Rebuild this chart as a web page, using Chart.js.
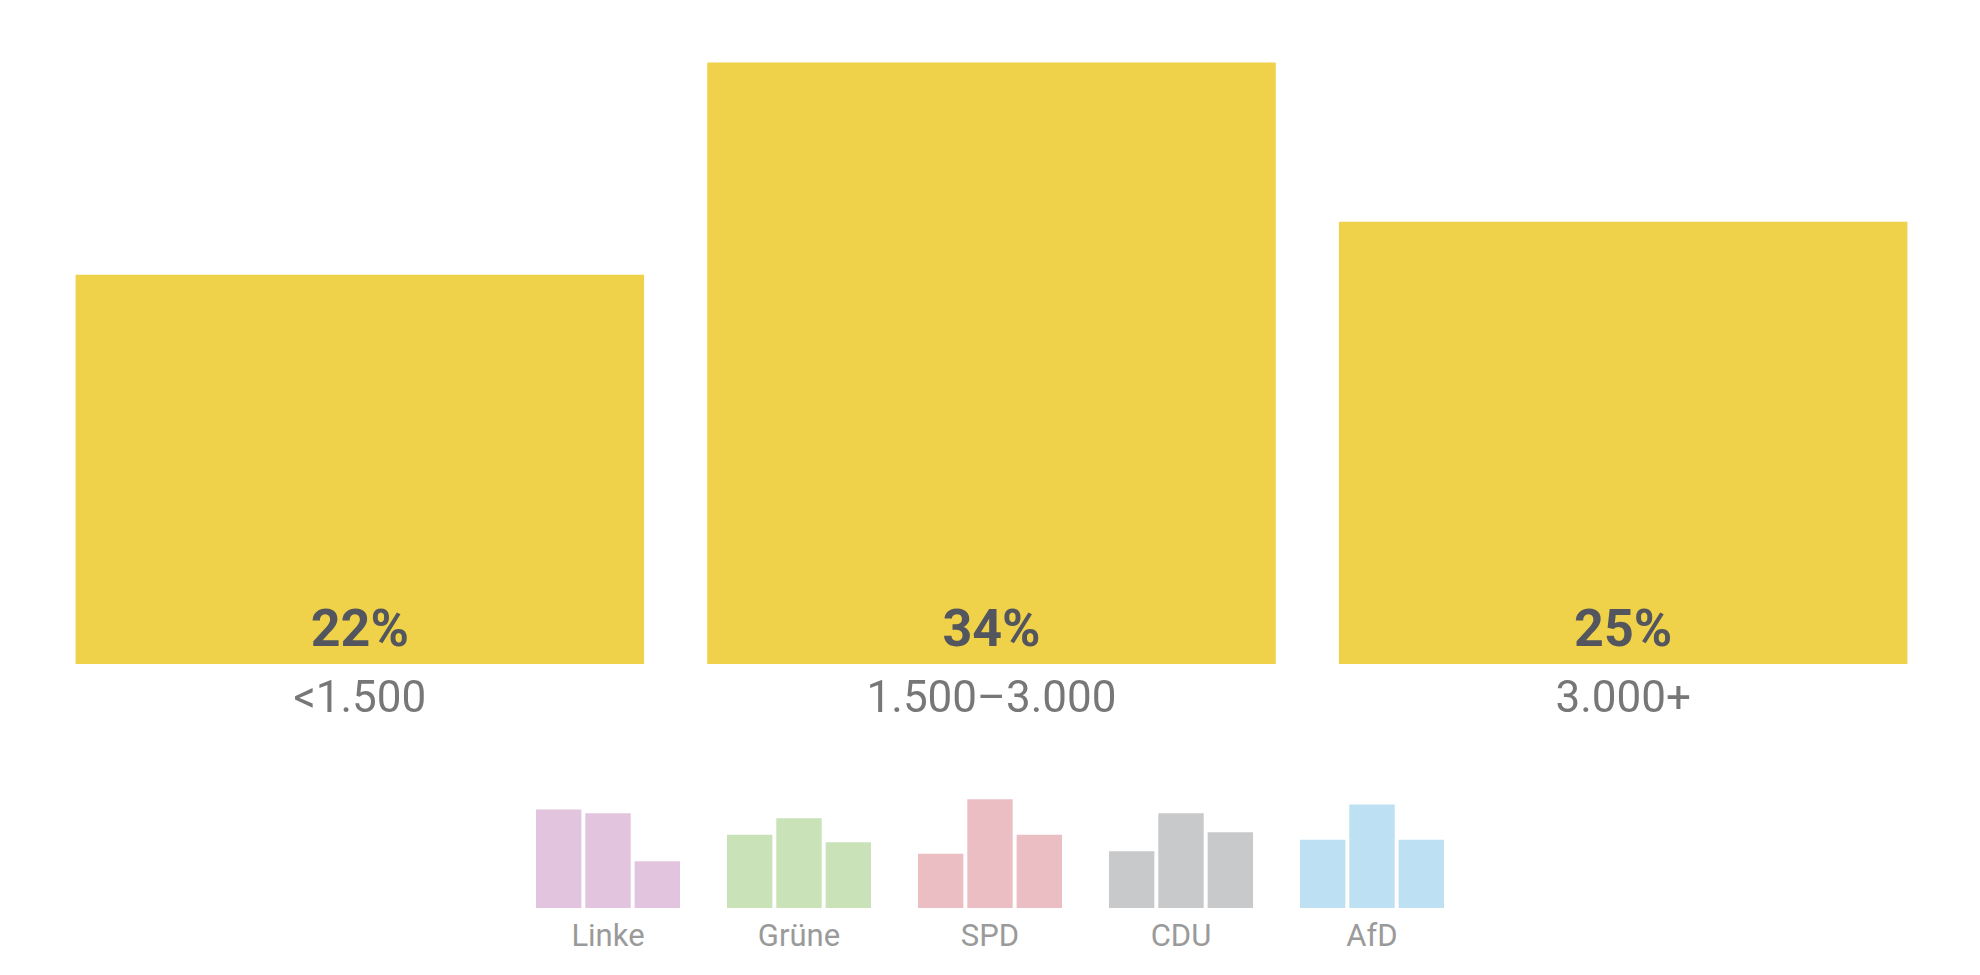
<!DOCTYPE html>
<html><head><meta charset="utf-8">
<script src="https://cdn.jsdelivr.net/npm/chart.js@4"></script>
<style>
body{margin:0;background:#fff;width:1980px;height:975px;overflow:hidden;position:relative;font-family:"Liberation Sans Narrow","Roboto",sans-serif}
canvas{position:absolute}
.lbl{position:absolute;width:148px;text-align:center;color:#9a9a9a;font-size:31px;top:917px}
</style></head><body>
<canvas id="main" style="left:0;top:0;width:1980px;height:760px"></canvas>
<script>
const categories=["<1.500","1.500–3.000","3.000+"];
const values=[22,34,25];
const parties=["Linke","Grüne","SPD","CDU","AfD"];
const partyColors=["#e2c4df","#c9e2b8","#ebbec4","#c8c9cb","#bde0f2"];
const partyValues=[[39,37.5,18.5],[29,35.5,26],[21.5,43,29],[22.5,37.5,30],[27,41,27]];

const labelPlugin={id:'lbl',afterDatasetsDraw(c){
  const ctx=c.ctx,meta=c.getDatasetMeta(0);
  ctx.save();ctx.textAlign='center';
  meta.data.forEach((b,i)=>{
    ctx.fillStyle='#53565e';ctx.font='bold 52px "Liberation Sans Narrow", Roboto, sans-serif';
    ctx.textBaseline='alphabetic';ctx.fillText(values[i]+'%',b.x,646);
    ctx.fillStyle='#777';ctx.font='44px "Liberation Sans Narrow", Roboto, sans-serif';
    ctx.fillText(categories[i],b.x,712);
  });ctx.restore();}};
new Chart(document.getElementById('main'),{type:'bar',
 data:{labels:categories,datasets:[{data:values,backgroundColor:'#f0d24a',barPercentage:0.9,categoryPercentage:1}]},
 options:{responsive:false,animation:false,layout:{padding:{left:44,right:41,top:27,bottom:96}},
  plugins:{legend:{display:false},tooltip:{enabled:false}},
  scales:{x:{display:false},y:{display:false,min:0,max:36}}},plugins:[labelPlugin]});

parties.forEach((p,i)=>{
  const cv=document.createElement('canvas');
  const left=534+191*i;
  cv.style.cssText=`left:${left}px;top:790px;width:148px;height:118px`;
  cv.width=148;cv.height=118;
  document.body.appendChild(cv);
  const d=document.createElement('div');d.className='lbl';d.style.left=left+'px';d.textContent=p;document.body.appendChild(d);
  new Chart(cv,{type:'bar',data:{labels:categories,datasets:[{data:partyValues[i],backgroundColor:partyColors[i],barPercentage:0.92,categoryPercentage:1}]},
   options:{responsive:false,animation:false,layout:{padding:0},plugins:{legend:{display:false},tooltip:{enabled:false}},
   scales:{x:{display:false},y:{display:false,min:0,max:46.7}}}});
});
</script></body></html>
